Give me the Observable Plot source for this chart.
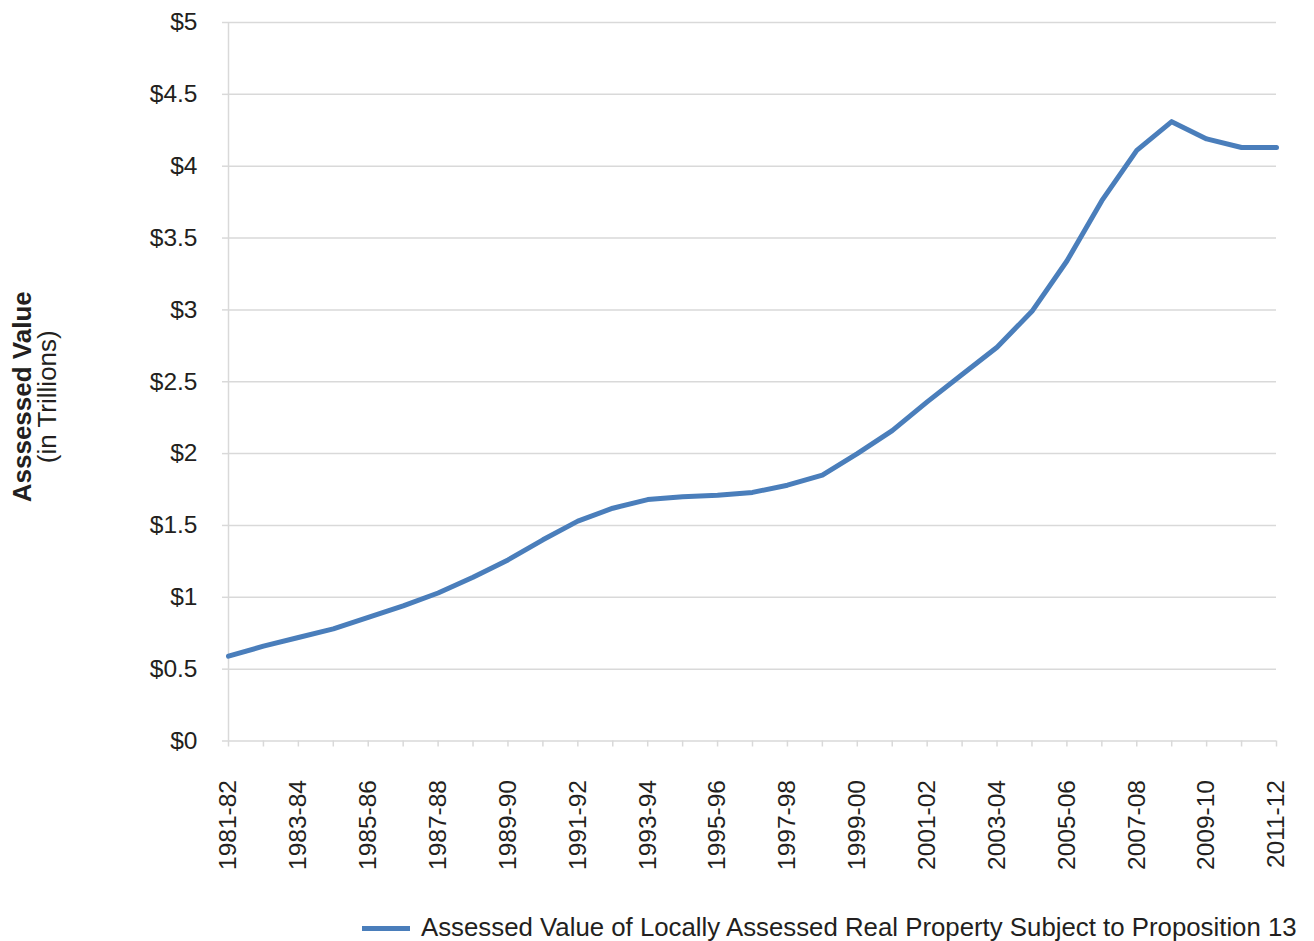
<!DOCTYPE html>
<html>
<head>
<meta charset="utf-8">
<script src="https://cdn.jsdelivr.net/npm/d3@7"></script>
<script src="https://cdn.jsdelivr.net/npm/@observablehq/plot@0.6"></script>
<style>
  body { margin: 0; background: #fff; font-family: "Liberation Sans", Arial, sans-serif; }
  #wrap { position: relative; width: 1314px; height: 941px; overflow: hidden; }
  #legend { position: absolute; left: 362px; top: 913px; width: 950px; display: flex; align-items: center; font-size: 25.8px; color: #231f20; white-space: nowrap; }
  #legend .sw { width: 48px; height: 5px; background: #4a7ebb; margin-right: 11px; margin-top: 2px; flex: none; }
</style>
</head>
<body>
<div id="wrap">
  <div id="chart"></div>
  <div id="legend"><span class="sw"></span><span>Assessed Value of Locally Assessed Real Property Subject to Proposition 13</span></div>
</div>
<script>
const years = ["1981-82","1982-83","1983-84","1984-85","1985-86","1986-87","1987-88","1988-89","1989-90","1990-91",
  "1991-92","1992-93","1993-94","1994-95","1995-96","1996-97","1997-98","1998-99","1999-00","2000-01",
  "2001-02","2002-03","2003-04","2004-05","2005-06","2006-07","2007-08","2008-09","2009-10","2010-11","2011-12"];
const values = [0.59,0.66,0.72,0.78,0.86,0.94,1.03,1.14,1.26,1.40,
  1.53,1.62,1.68,1.70,1.71,1.73,1.78,1.85,2.00,2.16,
  2.36,2.55,2.74,2.99,3.34,3.76,4.11,4.31,4.19,4.13,4.13];
const yTicks = [0,0.5,1,1.5,2,2.5,3,3.5,4,4.5,5];
const yTitle = "Asssessed Value";
const ySubtitle = "(in Trillions)";

const data = years.map((y, i) => ({year: y, value: values[i]}));
const textColor = "#231f20";
const gridColor = "#d9d9d9";

const chart = Plot.plot({
  width: 1314,
  height: 890,
  marginLeft: 228,
  marginRight: 38,
  marginTop: 22,
  marginBottom: 149.5,
  style: {fontFamily: "'Liberation Sans', Arial, sans-serif", fontSize: "24.5px", color: textColor, background: "white"},
  x: {type: "point", domain: years, padding: 0, round: false},
  y: {domain: [0, 5]},
  marks: [
    Plot.ruleY(yTicks, {stroke: gridColor, strokeWidth: 1.5, strokeOpacity: 1}),
    Plot.ruleX([years[0]], {stroke: gridColor, strokeWidth: 1.5, y1: 0, y2: 5}),
    Plot.axisY({ticks: yTicks, tickSize: 6, tickPadding: 25, stroke: gridColor, strokeOpacity: 1, strokeWidth: 1.5,
      tickFormat: d => "$" + d, fill: textColor, label: null}),
    Plot.axisX({ticks: years, tickSize: 6, stroke: gridColor, strokeOpacity: 1, strokeWidth: 1.5, tickFormat: () => "", label: null}),
    Plot.axisX({ticks: years.filter((d, i) => i % 2 === 0), tickSize: 0, tickPadding: 39, tickRotate: -90,
      textAnchor: "end", fill: textColor, label: null}),
    Plot.lineY(data, {x: "year", y: "value", stroke: "#4a7ebb", strokeWidth: 5, curve: "linear", strokeLinejoin: "round"}),
    Plot.text([yTitle], {frameAnchor: "left", textAnchor: "middle", rotate: -90, dx: -206, dy: 15, fontWeight: "bold", fontSize: 26, fill: textColor}),
    Plot.text([ySubtitle], {frameAnchor: "left", textAnchor: "middle", rotate: -90, dx: -181, dy: 15, fontSize: 26, fill: textColor})
  ]
});
document.getElementById("chart").appendChild(chart);
</script>
</body>
</html>
